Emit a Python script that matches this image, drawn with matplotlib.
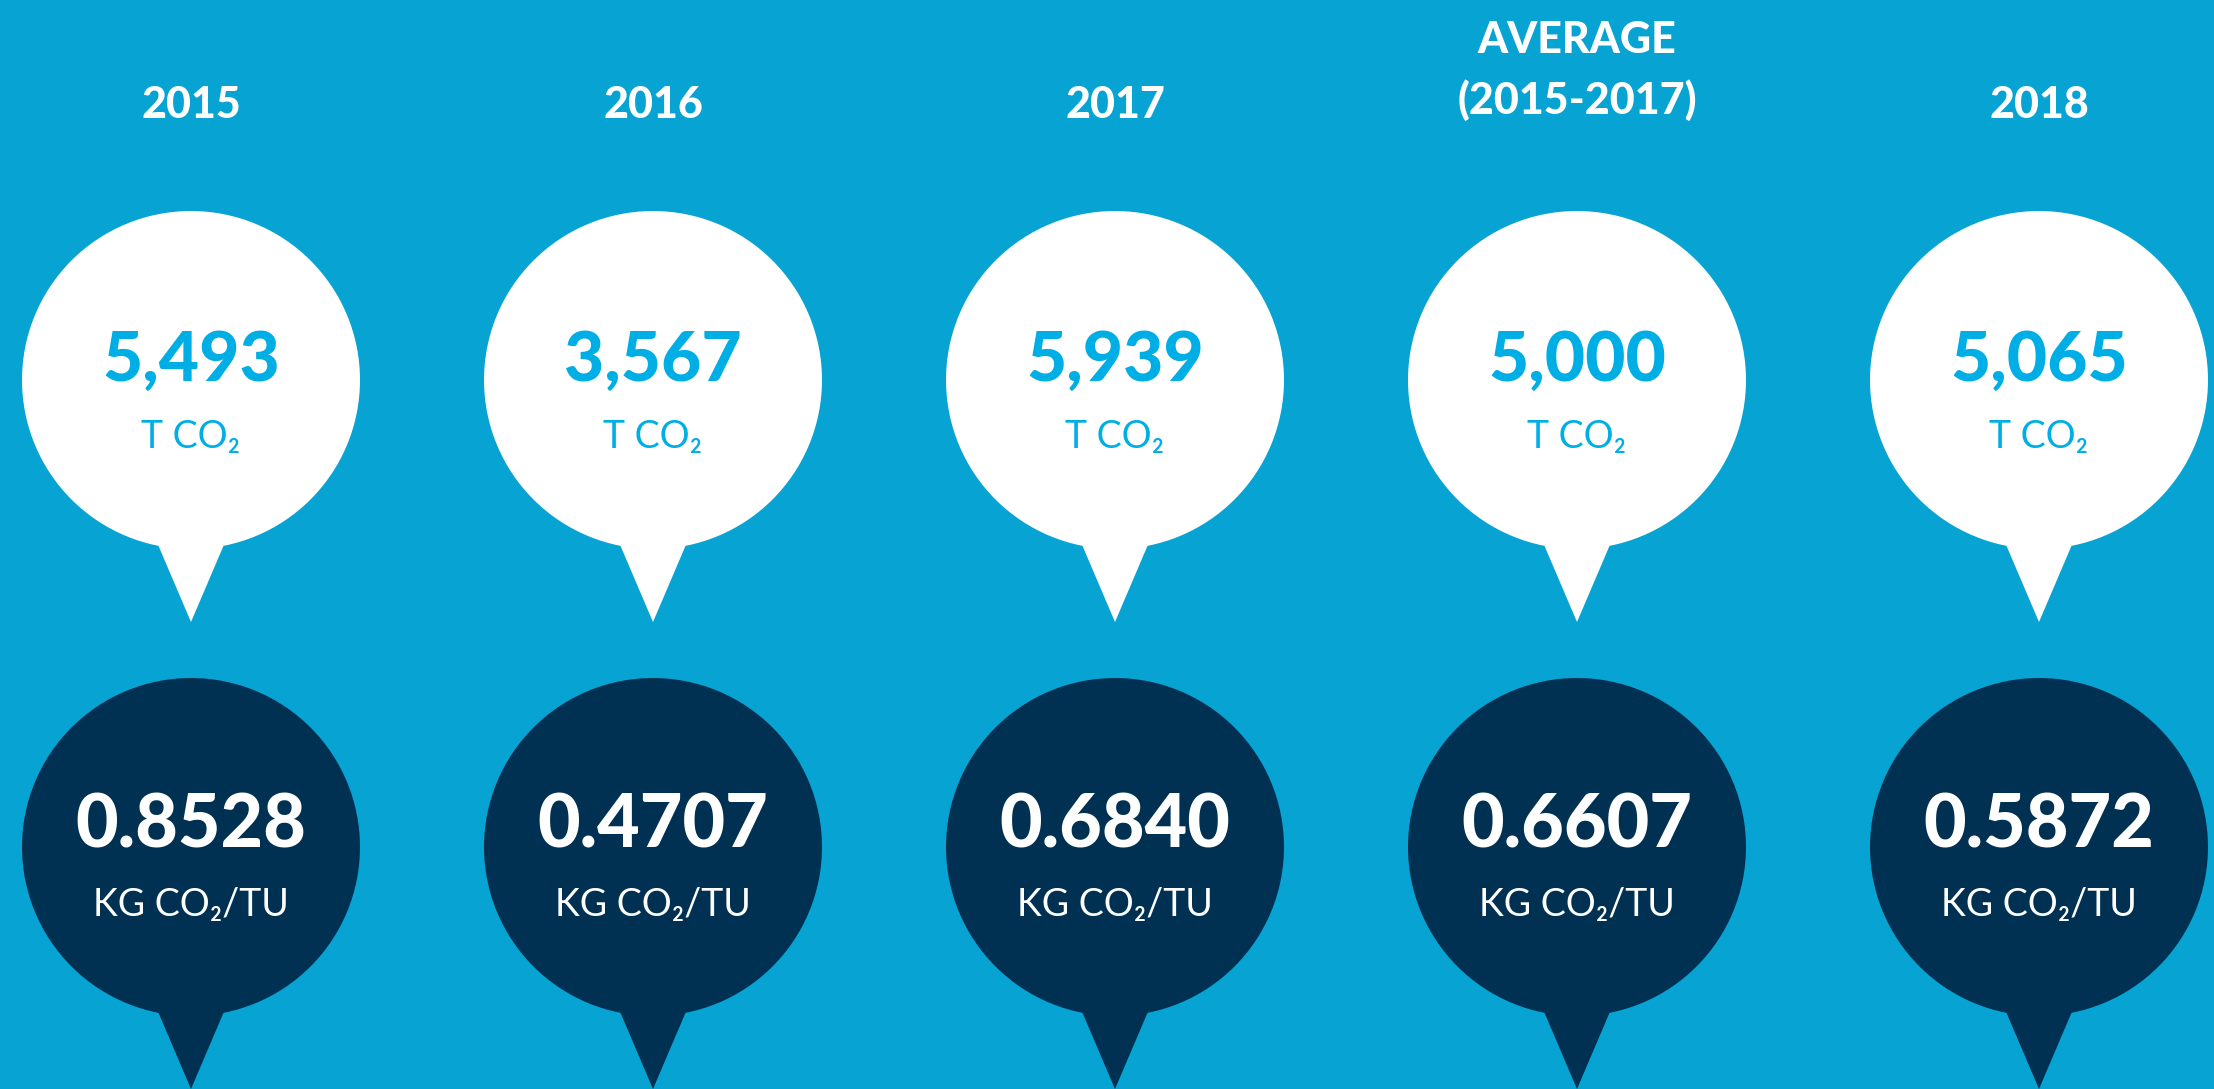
import numpy as np
import matplotlib.pyplot as plt
from matplotlib.patches import Circle, Polygon

# values
headers = ["2015", "2016", "2017", "AVERAGE\n(2015-2017)", "2018"]
tonnes = ["5,493", "3,567", "5,939", "5,000", "5,065"]
intensity = ["0.8528", "0.4707", "0.6840", "0.6607", "0.5872"]

bg = "#07a3d3"
navy = "#003152"
cyan = "#00aee6"
fams = ["Lato", "DejaVu Sans"]

fig = plt.figure(figsize=(22.14, 10.89), dpi=100)
fig.patch.set_facecolor(bg)
ax = fig.add_axes([0, 0, 1, 1])
ax.set_facecolor(bg)
ax.set_xlim(0, 2214)
ax.set_ylim(1089, 0)
ax.axis("off")

xs = 191 + 462 * np.arange(len(headers))
r = 169


def pin(cx, cy, color, tip):
    ax.add_patch(Circle((cx, cy), r, color=color, lw=0))
    ax.add_patch(Polygon([(cx - 35, cy + 160), (cx + 35, cy + 160), (cx, tip)],
                         closed=True, color=color, lw=0))


for x, h, t, k in zip(xs, headers, tonnes, intensity):
    # header
    if "\n" in h:
        ax.text(x, 114, h, ha="center", va="baseline", color="white",
                fontsize=31, fontweight="black", family=fams, linespacing=1.55)
    else:
        ax.text(x, 118, h, ha="center", va="baseline", color="white",
                fontsize=31, fontweight="black", family=fams)

    # white pin
    pin(x, 380, "white", 622)
    ax.text(x, 381, t, ha="center", va="baseline", color=cyan,
            fontsize=50, fontweight="black", family=fams)
    ax.text(x, 448, "T CO\u2082", ha="center", va="baseline", color=cyan,
            fontsize=27, fontweight="normal", family=fams)

    # navy pin
    pin(x, 847, navy, 1089)
    ax.text(x, 848, k, ha="center", va="baseline", color="white",
            fontsize=53, fontweight="black", family=fams)
    ax.text(x, 916, "KG CO\u2082/TU", ha="center", va="baseline", color="white",
            fontsize=27, fontweight="normal", family=fams)

plt.savefig("out.png", dpi=100, facecolor=bg)
